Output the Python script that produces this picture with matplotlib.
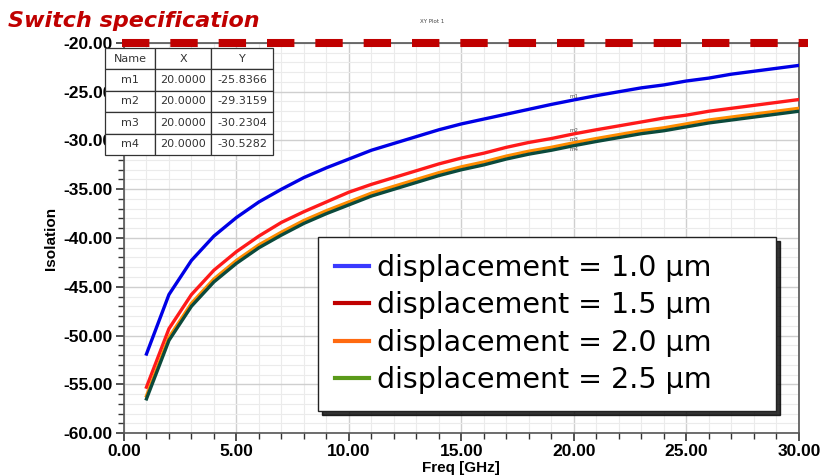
import matplotlib
matplotlib.use("Agg")
import matplotlib.pyplot as plt
from matplotlib.lines import Line2D
from matplotlib.ticker import MultipleLocator, FormatStrFormatter

freq = list(range(1, 31))
iso_10 = [-51.9, -45.8, -42.3, -39.8, -37.9, -36.3, -35.0, -33.8, -32.8, -31.9,
          -31.0, -30.3, -29.6, -28.9, -28.3, -27.8, -27.3, -26.8, -26.3, -25.84,
          -25.4, -25.0, -24.6, -24.3, -23.9, -23.6, -23.2, -22.9, -22.6, -22.3]
iso_15 = [-55.3, -49.3, -45.8, -43.3, -41.4, -39.8, -38.4, -37.3, -36.3, -35.3,
          -34.5, -33.8, -33.1, -32.4, -31.8, -31.3, -30.7, -30.2, -29.8, -29.32,
          -28.9, -28.5, -28.1, -27.7, -27.4, -27.0, -26.7, -26.4, -26.1, -25.8]
iso_20 = [-56.2, -50.2, -46.7, -44.2, -42.3, -40.7, -39.4, -38.2, -37.2, -36.3,
          -35.4, -34.7, -34.0, -33.3, -32.7, -32.2, -31.6, -31.1, -30.7, -30.23,
          -29.8, -29.4, -29.0, -28.7, -28.3, -27.9, -27.6, -27.3, -27.0, -26.7]
iso_25 = [-56.5, -50.5, -47.0, -44.5, -42.6, -41.0, -39.7, -38.5, -37.5, -36.6,
          -35.7, -35.0, -34.3, -33.6, -33.0, -32.5, -31.9, -31.4, -31.0, -30.53,
          -30.1, -29.7, -29.3, -29.0, -28.6, -28.2, -27.9, -27.6, -27.3, -27.0]
spec_level = -20.0
legend_labels = ["displacement = 1.0 μm", "displacement = 1.5 μm",
                 "displacement = 2.0 μm", "displacement = 2.5 μm"]
marker_names = ["m1", "m2", "m3", "m4"]
marker_x = [20.0, 20.0, 20.0, 20.0]
marker_y = [-25.8366, -29.3159, -30.2304, -30.5282]

line_colors = ["#0000e6", "#ff1a1a", "#ff8c00", "#0b4a3c"]
legend_colors = ["#3a3aff", "#c00000", "#ff6a10", "#5a9a1a"]

fig = plt.figure(figsize=(8.21, 4.75), dpi=100)
ax = fig.add_axes([0.151, 0.0884, 0.822, 0.8211])

ax.set_xlim(0, 30)
ax.set_ylim(-60, -20)
ax.xaxis.set_major_locator(MultipleLocator(5))
ax.xaxis.set_minor_locator(MultipleLocator(1))
ax.yaxis.set_major_locator(MultipleLocator(5))
ax.yaxis.set_minor_locator(MultipleLocator(1))
ax.xaxis.set_major_formatter(FormatStrFormatter("%.2f"))
ax.yaxis.set_major_formatter(FormatStrFormatter("%.2f"))
ax.grid(which="major", color="#cfcfcf", linewidth=1.0)
ax.grid(which="minor", color="#ebebeb", linewidth=0.8)
ax.set_axisbelow(True)

for s in ax.spines.values():
    s.set_color("#555555")
    s.set_linewidth(1.2)

ax.tick_params(which="major", direction="out", length=6, width=1.2, color="#333333",
               labelsize=12.5, pad=2)
ax.tick_params(which="minor", direction="out", length=4, width=1.0, color="#333333")
for lab in ax.get_xticklabels() + ax.get_yticklabels():
    lab.set_fontweight("bold")
    lab.set_family("Liberation Sans")

series = [iso_10, iso_15, iso_20, iso_25]
for i in range(4):
    ax.plot(freq, series[i], color=line_colors[i], linewidth=2.4, zorder=3)

# marker labels
for k, (x, y, n) in enumerate(zip(marker_x, marker_y, marker_names)):
    if k == 3:
        ax.text(x, y - 0.15, n, fontsize=4, color="#555555", ha="center", va="top", zorder=4)
    else:
        ax.text(x, y + 0.1, n, fontsize=4, color="#555555", ha="center", va="bottom", zorder=4)

# specification dashed line
ax.plot([-0.1, 30.4], [spec_level, spec_level], color="#c00000", linewidth=5.8,
        dashes=(3.4, 2.6), clip_on=False, zorder=5, solid_capstyle="butt",
        dash_capstyle="butt")

ax.set_xlabel("Freq [GHz]", fontsize=11, fontweight="bold", family="Liberation Sans",
              labelpad=1)
ax.set_ylabel("Isolation", fontsize=11, fontweight="bold", family="Liberation Sans",
              labelpad=4)

# marker table
cell_text = [[n, f"{x:.4f}", f"{y:.4f}"] for n, x, y in zip(marker_names, marker_x, marker_y)]
tbl = ax.table(cellText=cell_text, colLabels=["Name", "X", "Y"],
               cellLoc="center", bbox=[-0.028, 0.713, 0.249, 0.274],
               colWidths=[0.298, 0.333, 0.369])
tbl.auto_set_font_size(False)
tbl.set_fontsize(8)
tbl.set_zorder(10)
tbl.set_clip_on(False)
for (r, c), cell in tbl.get_celld().items():
    cell.set_edgecolor("#333333")
    cell.set_linewidth(0.9)
    cell.set_facecolor("white")
    cell.get_text().set_color("#333333")
    cell.get_text().set_family("DejaVu Sans")

# legend
handles = [Line2D([0], [0], color=c, linewidth=3) for c in legend_colors]
leg = ax.legend(handles, legend_labels, loc="upper left", mode="expand",
                bbox_to_anchor=(0.2874, 0.057, 0.6785, 0.446), borderaxespad=0,
                prop={"family": "DejaVu Sans", "size": 20.5},
                handlelength=1.2, handletextpad=0.28, labelspacing=0.33,
                borderpad=0.6, frameon=True, fancybox=False,
                shadow={"color": "black", "alpha": 0.8, "ox": 3, "oy": -3},
                edgecolor="#222222", framealpha=1)
leg.get_frame().set_linewidth(1.0)
leg.set_zorder(20)

fig.text(0.010, 0.955, "Switch specification", fontsize=16, fontweight="bold",
         style="italic", color="#c00000", family="DejaVu Sans", va="center")
fig.text(0.512, 0.955, "XY Plot 1", fontsize=4, color="#444444", va="center")

fig.savefig("out.png", dpi=100)
